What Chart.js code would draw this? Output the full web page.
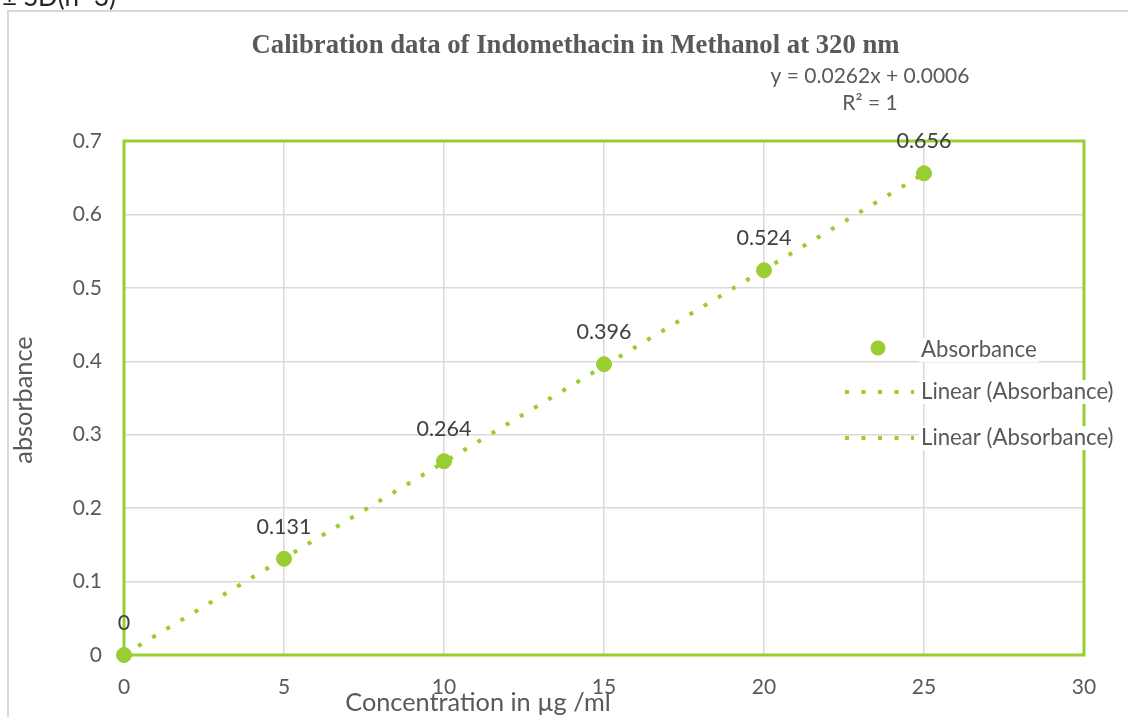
<!DOCTYPE html>
<html><head><meta charset="utf-8">
<script src="https://cdn.jsdelivr.net/npm/chart.js@4.4.1/dist/chart.umd.min.js"></script>
<style>html,body{margin:0;padding:0;background:#fff;overflow:hidden}</style>
</head><body>
<canvas id="c" width="1128" height="717"></canvas>
<script>
// ---- data ----
const concentrations = [0, 5, 10, 15, 20, 25];
const absorbance = [0, 0.131, 0.264, 0.396, 0.524, 0.656];
const pointLabels = ['0', '0.131', '0.264', '0.396', '0.524', '0.656'];
const trendX = [0, 25];
const trendY = [0.0006, 0.6556];
const xTickLabels = ['0', '5', '10', '15', '20', '25', '30'];
const yTickLabels = ['0', '0.1', '0.2', '0.3', '0.4', '0.5', '0.6', '0.7'];
const titleText = 'Calibration data of Indomethacin in Methanol at 320 nm';
const equationText = 'y = 0.0262x + 0.0006';
const r2Text = 'R² = 1';
const xTitle = 'Concentration in µg /ml';
const yTitle = 'absorbance';
const legendLabels = ['Absorbance', 'Linear (Absorbance)', 'Linear (Absorbance)'];

// ---- style ----
const GREEN = '#9ACD32';
const TEXT = '#595959';
const DARK = '#404040';
const GRID = '#d9d9d9';
const FONT = 'Lato, "Open Sans", sans-serif';
const DASH = [4, 12.5];

const decor = {
  id: 'decor',
  beforeDraw(chart) {
    const c = chart.ctx;
    c.save();
    c.fillStyle = '#fff';
    c.fillRect(0, 0, chart.width, chart.height);
    // outer frame
    c.strokeStyle = GRID;
    c.lineWidth = 2;
    c.beginPath();
    c.moveTo(8, 800); c.lineTo(8, 11); c.lineTo(1140, 11);
    c.stroke();
    // cut-off caption text above the frame
    c.fillStyle = '#262626';
    c.font = '26px ' + FONT;
    c.textAlign = 'right';
    c.textBaseline = 'alphabetic';
    c.fillText('± SD(n=3)', 116, 6);
    c.restore();
  },
  beforeDatasetsDraw(chart) {
    const a = chart.chartArea, c = chart.ctx;
    c.save();
    c.strokeStyle = GREEN;
    c.lineWidth = 3;
    c.strokeRect(a.left, a.top, a.right - a.left, a.bottom - a.top);
    c.restore();
  },
  afterDraw(chart) {
    const c = chart.ctx;
    const meta = chart.getDatasetMeta(0);
    c.save();
    // data labels
    c.fillStyle = DARK;
    c.font = '21.5px ' + FONT;
    c.textAlign = 'center';
    c.textBaseline = 'middle';
    meta.data.forEach((p, i) => c.fillText(pointLabels[i], p.x, p.y - 32));
    // title
    c.fillStyle = TEXT;
    c.font = 'bold 26.7px "Liberation Serif", "DejaVu Serif", serif';
    c.fillText(titleText, 575.5, 46);
    // equation
    c.font = '21px ' + FONT;
    c.fillText(equationText, 870, 76);
    c.fillText(r2Text, 870, 103);
    // axis titles
    c.font = '25.3px ' + FONT;
    c.fillText(xTitle, 478, 703);
    c.save();
    c.translate(24, 400);
    c.rotate(-Math.PI / 2);
    c.fillText(yTitle, 0, 0);
    c.restore();
    // legend
    const rows = [350, 392, 438];
    c.font = '22.2px ' + FONT;
    c.textAlign = 'left';
    rows.forEach((y, i) => {
      const w = c.measureText(legendLabels[i]).width;
      c.fillStyle = '#fff';
      c.fillRect(919, y - 12, w + 4, 24);
      c.fillStyle = TEXT;
      c.fillText(legendLabels[i], 921, y);
    });
    c.fillStyle = GREEN;
    c.beginPath(); c.arc(878, 348, 7.5, 0, Math.PI * 2); c.fill();
    c.strokeStyle = GREEN;
    c.lineWidth = 4;
    c.setLineDash(DASH);
    [392, 438].forEach(y => {
      c.beginPath(); c.moveTo(845, y); c.lineTo(914, y); c.stroke();
    });
    c.restore();
  }
};

new Chart(document.getElementById('c'), {
  type: 'scatter',
  data: {
    datasets: [
      {
        label: legendLabels[0],
        data: concentrations.map((x, i) => ({ x: x, y: absorbance[i] })),
        backgroundColor: GREEN,
        borderColor: GREEN,
        pointRadius: 7.5,
        pointHoverRadius: 7.5,
        showLine: false,
        clip: false,
        order: 0
      },
      {
        label: legendLabels[1],
        type: 'line',
        data: trendX.map((x, i) => ({ x: x, y: trendY[i] })),
        borderColor: GREEN,
        borderWidth: 4,
        borderDash: DASH,
        pointRadius: 0,
        fill: false,
        clip: false,
        order: 1
      }
    ]
  },
  options: {
    responsive: false,
    animation: false,
    events: [],
    layout: { padding: { left: 0, right: 44, top: 141, bottom: 0 } },
    plugins: { legend: { display: false }, tooltip: { enabled: false } },
    scales: {
      x: {
        type: 'linear', min: 0, max: 30,
        ticks: {
          stepSize: 5, color: TEXT, font: { family: FONT, size: 21 }, padding: 20, maxRotation: 0,
          callback: (v) => xTickLabels[Math.round(v / 5)]
        },
        grid: { color: GRID, lineWidth: 1.5, drawTicks: false },
        border: { display: false },
        afterFit(s) { s.height = 62; }
      },
      y: {
        min: 0, max: 0.7,
        ticks: {
          stepSize: 0.1, color: TEXT, font: { family: FONT, size: 21 }, padding: 22,
          callback: (v) => yTickLabels[Math.round(v * 10)]
        },
        grid: { color: GRID, lineWidth: 1.5, drawTicks: false },
        border: { display: false },
        afterFit(s) { s.width = 124; }
      }
    }
  },
  plugins: [decor]
});
</script>
</body></html>
